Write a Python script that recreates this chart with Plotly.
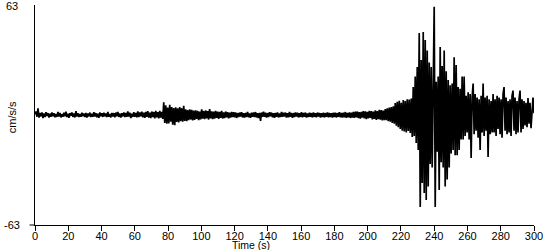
import plotly.graph_objects as go

DT = 0.6  # seconds between samples

# Acceleration values (cm/s/s) read from the record, by segment
quiet_pre_start = 0.0
quiet_pre = [
    0.5, 2.0, -1.0, 3.8, -1.5, 1.2, -0.8, 1.5, -1.8, 0.9,
    -1.2, 1.6, -0.6, 1.1, -1.5, 0.8, -1.0, 1.4, -0.7, 1.0,
    -1.3, 0.6, -1.1, 1.7, -0.9, 1.2, -1.4, 0.5, -1.0, 1.3,
    -0.8, 1.9, -1.2, 0.7, -1.6, 1.1, -0.5, 1.5, -1.1, 0.9,
    -1.4, 2.2, -0.9, 1.0, -1.2, 0.6, -1.0, 1.3, -0.7, 0.8,
    -1.1, 1.2, -1.5, 0.9, -0.8, 1.4, -1.2, 0.7, -1.0, 1.6,
    -0.9, 1.1, -1.3, 0.8, -1.6, 1.5, -0.7, 1.0, -1.1, 1.3,
    -0.8, 0.9, -1.2, 1.7, -1.0, 0.6, -1.4, 1.2, -0.9, 1.1,
    -1.3, 1.4, -0.7, 1.8, -1.1, 0.8, -1.5, 1.0, -0.8, 1.5,
    -1.2, 1.1, -1.0, 2.0, -0.9, 1.3, -1.7, 0.7, -1.1, 1.6,
    -1.0, 1.2, -1.4, 2.1, -1.2, 1.5, -0.8, 1.9, -1.3, 1.4,
    -1.6, 1.8, -1.1, 2.2, -1.5, 1.3, -1.8, 2.0, -1.2, 1.7,
    -1.9, 2.3, -1.4, 1.6, -2.0, 2.4, -1.5, 1.8, -2.2, 7.3,
]

p_wave_start = 78.0
p_wave = [
    -4.5, 5.5, -5.0, 4.2, -4.8, 5.8, -3.9, 4.5, -5.5, 4.0,
    -5.8, 4.4, -4.0, 3.8, -4.2, 4.6, -3.5, 3.9, -3.8, 5.2,
    -3.4, 3.2, -3.6, 2.8, -3.0, 3.3, -2.6, 2.9, -3.1, 2.5,
    -2.8, 2.6, -2.2, 2.4, -2.9, 2.0, -2.5, 3.2, -2.1, 2.3,
    -2.4, 2.7, -1.9, 2.2, -2.6, 3.4, -2.0, 2.1, -2.3, 1.9,
    -2.1, 2.4, -1.7, 2.0, -2.2, 1.8, -1.6, 2.3, -2.0, 1.5,
    -1.8, 2.0, -1.4, 1.7, -1.9, 1.3, -1.5, 1.8, -1.2, 1.6,
]

quiet_mid_start = 120.0
quiet_mid = [
    -1.3, 1.5, -1.7, 1.1, -1.2, 1.4, -0.9, 1.6, -1.4, 1.0,
    -1.5, 1.2, -1.1, 1.8, -1.3, 0.9, -1.6, 1.3, -1.0, 1.5,
    -1.2, 1.7, -1.4, 1.0, -1.8, 1.2, -3.4, 1.4, -1.1, 1.9,
    -1.0, 1.3, -1.5, 1.1, -1.2, 1.6, -0.8, 1.4, -1.3, 1.0,
    -1.6, 1.2, -1.0, 1.5, -1.4, 0.9, -1.2, 1.7, -1.1, 1.3,
    -0.9, 1.4, -1.5, 1.0, -1.3, 1.8, -1.0, 1.2, -1.6, 1.1,
    -1.2, 1.5, -0.9, 1.3, -1.4, 1.0, -1.1, 1.6, -1.3, 1.2,
    -1.0, 1.4, -1.5, 0.9, -1.2, 1.3, -1.0, 1.1, -1.4, 1.5,
    -1.1, 1.0, -1.3, 1.4, -0.9, 1.2, -1.5, 1.1, -1.2, 1.3,
    -1.4, 1.1, -1.0, 1.5, -1.3, 1.2, -1.1, 1.0, -1.5, 1.4,
    -1.2, 1.3, -1.4, 1.1, -1.0, 1.6, -1.3, 1.2, -1.5, 1.4,
    -1.3, 1.7, -1.6, 1.2, -1.4, 1.5, -1.7, 1.3, -1.5, 1.8,
]

s_onset_start = 192.0
s_onset = [
    -1.6, 1.9, -1.4, 2.0, -1.8, 1.6, -2.1, 1.8, -1.5, 2.2,
    -1.9, 2.1, -2.3, 1.8, -2.0, 2.4, -1.7, 2.2, -2.5, 2.0,
    -2.2, 2.6, -2.8, 2.3, -2.4, 3.0, -2.6, 2.8, -3.1, 2.5,
    -3.0, 3.4, -2.9, 3.8, -3.5, 4.2, -3.8, 4.5, -4.6, 5.0,
    -5.0, 6.8, -6.2, 7.5, -7.0, 8.2, -8.0, 7.0, -9.0, 8.6,
    -9.5, 8.0, -10.0, 9.0, -9.2, 8.8, -10.3, 9.5, -12.6, 16.0,
]

s_wave_start = 228.0
s_wave = [
    -12.0, 22.0, -16.0, 27.5, -20.0, 47.0, -52.7, 31.5, -39.0, 47.5,
    -44.7, 43.0, -48.7, 37.0, -41.0, 30.0, -28.0, 27.5, -30.0, 24.0,
    62.0, -52.7, 19.0, -21.0, 22.0, -43.0, 39.0, -27.0, 28.0, -30.0,
    37.0, -41.0, 25.0, -37.0, 20.0, -30.0, 17.0, -22.0, 18.0, -20.0,
    33.0, -23.0, 28.6, -23.0, 16.0, -20.0, 15.0, -14.0, 22.0, -14.0,
]

coda_start = 258.0
coda = [
    22.0, -12.0, 11.0, -10.0, 13.0, -14.0, 12.0, -24.6, 10.0, 18.0,
    -11.0, 12.0, -9.0, 10.0, -13.0, 9.0, -20.0, 11.0, -10.0, 18.0,
    -12.0, 10.0, -9.0, 11.0, -24.0, 9.0, -11.0, 8.0, -10.0, 12.0,
    -10.0, 9.0, -12.0, 11.0, -8.0, 10.0, -11.0, 9.0, -13.0, 12.0,
    16.0, -9.0, 10.0, -11.0, 8.0, -10.0, 9.0, -12.0, 11.0, 14.0,
    -9.0, 10.0, -11.0, 8.0, -10.0, 9.0, 14.0, -10.0, 9.0, -8.0,
    8.0, -6.0, 7.0, -7.0, 9.7, -5.0, 7.0, -7.5, 6.0, 10.0,
    1.0,
]

segments = [
    (quiet_pre_start, quiet_pre),
    (p_wave_start, p_wave),
    (quiet_mid_start, quiet_mid),
    (s_onset_start, s_onset),
    (s_wave_start, s_wave),
    (coda_start, coda),
]

x_ticks = list(range(0, 301, 20))
y_limit = 63
y_tick_labels = [str(y_limit), str(-y_limit)]

times, accel = [], []
for start, vals in segments:
    for i, v in enumerate(vals):
        times.append(round(start + i * DT, 3))
        accel.append(v)

FONT = "Liberation Sans, Arial, sans-serif"

fig = go.Figure()
fig.add_trace(go.Scatter(
    x=times, y=accel, mode="lines",
    line=dict(color="black", width=1.7),
    hoverinfo="skip", showlegend=False,
))

fig.update_layout(
    width=550, height=250,
    margin=dict(l=35, r=16, t=5, b=25),
    paper_bgcolor="white", plot_bgcolor="white",
    font=dict(family=FONT, size=11, color="black"),
    showlegend=False,
)
fig.update_xaxes(
    range=[0, 300], tickvals=x_ticks, ticktext=[str(v) for v in x_ticks],
    showgrid=False, zeroline=False,
    showline=True, linecolor="black", linewidth=1,
    ticks="outside", ticklen=5, tickwidth=1, tickcolor="black",
    ticklabelstandoff=-4,
    tickfont=dict(family=FONT, size=11, color="black"),
)
fig.update_yaxes(
    range=[-y_limit, y_limit], showticklabels=False,
    showgrid=False, zeroline=False,
    showline=True, linecolor="black", linewidth=1, ticks="",
)
# y-axis end labels, left aligned at the figure edge
fig.add_annotation(
    text=y_tick_labels[0], showarrow=False, xref="paper", yref="paper",
    x=-0.062, y=0.995, xanchor="left", yanchor="middle",
    font=dict(family=FONT, size=11, color="black"),
)
fig.add_annotation(
    text=y_tick_labels[1], showarrow=False, xref="paper", yref="paper",
    x=-0.066, y=0.0, xanchor="left", yanchor="middle",
    font=dict(family=FONT, size=11, color="black"),
)
# small tick at the bottom of the y axis
fig.add_shape(
    type="line", xref="paper", yref="paper",
    x0=-0.011, x1=0, y0=0, y1=0,
    line=dict(color="black", width=1),
)
fig.add_annotation(
    text="cm/s/s", textangle=-90, showarrow=False,
    xref="paper", yref="paper", x=-0.046, y=0.49,
    xanchor="center", yanchor="middle",
    font=dict(family=FONT, size=11, color="black"),
)
fig.add_annotation(
    text="Time (s)", showarrow=False,
    xref="paper", yref="paper", x=0.432, y=-0.093,
    xanchor="center", yanchor="middle",
    font=dict(family=FONT, size=10.5, color="black"),
)

fig.write_html("out.html")
